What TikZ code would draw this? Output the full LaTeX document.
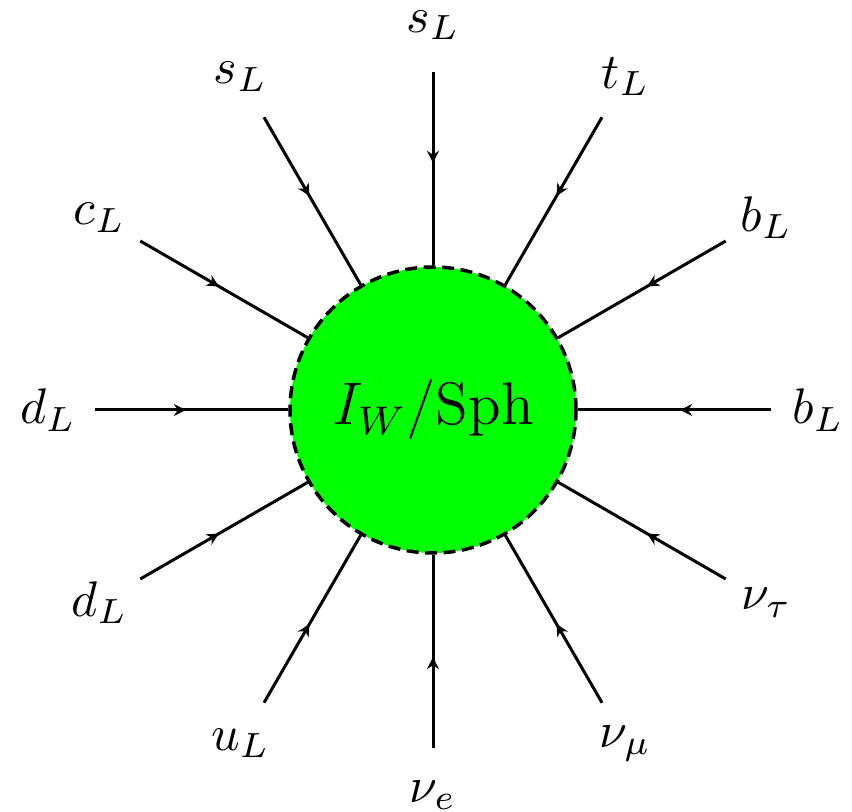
\documentclass[tikz,border=0pt]{standalone}
\usetikzlibrary{arrows.meta,decorations.markings}
\definecolor{blobgreen}{RGB}{0,255,0}
\tikzset{
  blob/.style={circle,draw=black,fill=blobgreen,line width=0.7pt,dash pattern=on 2.4pt off 1.3pt,minimum size=57.2pt,inner sep=0pt,font=\large},
  fermion/.style={line width=0.6pt,postaction={decorate},decoration={markings,mark=at position 0.47 with {\arrow{Stealth[length=2.4pt,width=2.4pt,inset=0.8pt]}}}},
  lab/.style={inner sep=0pt}
}
\begin{document}
\begin{tikzpicture}[x=0.2pt,y=0.2pt]
\useasboundingbox (-433,-402) rectangle (419,410);
\node[blob] (c) at (0,0) {$I_W/\mathrm{Sph}$};
\foreach \ang/\txt [count=\i] in {90/s_L,60/t_L,30/b_L,0/b_L,-30/\nu_\tau,-60/\nu_\mu,-90/\nu_e,-120/u_L,-150/d_L,180/d_L,150/c_L,120/s_L}{
  \coordinate (o\i) at (\ang:338);
  \node[lab] (l\i) at (\ang:385) {$\txt$};
  \draw[fermion] (o\i) -- (c.\ang);
}
\end{tikzpicture}
\end{document}
